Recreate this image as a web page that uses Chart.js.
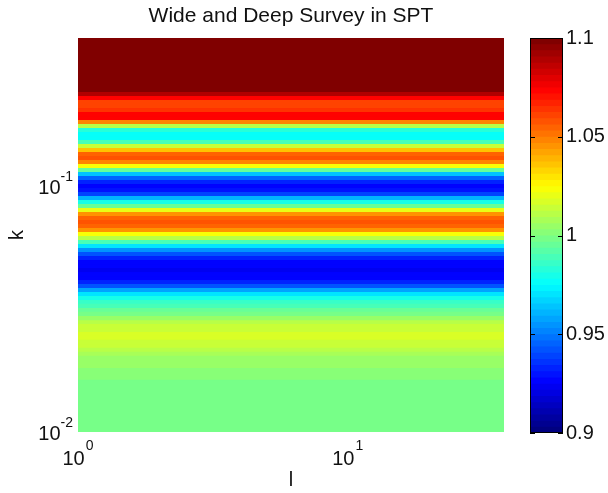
<!DOCTYPE html>
<html>
<head>
<meta charset="utf-8">
<script src="https://cdn.jsdelivr.net/npm/chart.js@4.4.0/dist/chart.umd.min.js"></script>
<style>
  html, body { margin: 0; padding: 0; background: #fff; }
  #wrap { position: relative; width: 608px; height: 493px; }
  #heat { position: absolute; left: 0; top: 0; }
  #cbar { position: absolute; left: 520px; top: 0; }
</style>
</head>
<body>
<div id="wrap">
  <canvas id="heat" width="608" height="493"></canvas>
  <canvas id="cbar" width="88" height="493"></canvas>
</div>
<script>
// axis ranges
var lRange = [1, 38];
var kRange = [0.01, 0.4];
var xTicks = [1, 10];
var yTicks = [0.01, 0.1];
var cRange = [0.9, 1.1];
var cTicks = [0.9, 0.95, 1, 1.05, 1.1];

// row edges in k (top to bottom)
var kEdges = [0.4, 0.2410, 0.2322, 0.2237, 0.2154, 0.2075, 0.1999, 0.1926, 0.1855, 0.1787,
  0.1721, 0.1658, 0.1597, 0.1538, 0.1482, 0.1427, 0.1375, 0.1324, 0.1276, 0.1229,
  0.1184, 0.1140, 0.1098, 0.1058, 0.1019, 0.0982, 0.0946, 0.0911, 0.0877, 0.0845,
  0.0814, 0.0784, 0.0755, 0.0728, 0.0701, 0.0675, 0.0650, 0.0626, 0.0603, 0.0581,
  0.0560, 0.0539, 0.0520, 0.0500, 0.0482, 0.0464, 0.0447, 0.0431, 0.0415, 0.0400,
  0.0385, 0.0371, 0.0357, 0.0344, 0.0332, 0.0319, 0.0308, 0.0296, 0.0285, 0.0275,
  0.0265, 0.0255, 0.0246, 0.0237, 0.0228, 0.0220, 0.0212, 0.0204, 0.0196, 0.0189,
  0.0182, 0.0175, 0.0169, 0.0163, 0.01];

// ratio in each row (same for every l)
var ratio = [1.12,
  1.09, 1.075, 1.062, 1.06, 1.065, 1.075, 1.075, 1.05, 1.01, 0.982,
  0.976, 0.978, 0.99, 1.015, 1.035, 1.055, 1.058, 1.05, 1.025, 0.995,
  0.965, 0.945, 0.932, 0.928, 0.93, 0.94, 0.96, 0.98, 0.995, 1.02,
  1.045, 1.055, 1.058, 1.055, 1.045, 1.025, 1.01, 0.99, 0.97, 0.955,
  0.942, 0.933, 0.928, 0.925, 0.923, 0.925, 0.927, 0.932, 0.942, 0.958,
  0.97, 0.98, 0.985, 0.99, 0.995, 1.0, 1.005, 1.01, 1.013, 1.015,
  1.016, 1.016, 1.015, 1.013, 1.01, 1.008, 1.006, 1.005, 1.004, 1.003,
  1.002, 1.001,
  1.0];

var fam = '"Liberation Sans", Arial, Helvetica, sans-serif';
var ink = '#111';

function clamp(v) { return Math.max(0, Math.min(1, v)); }
// matlab jet, 64 levels
function jet(v) {
  var idx = Math.floor((v - cRange[0]) / (cRange[1] - cRange[0]) * 64);
  idx = Math.max(0, Math.min(63, idx));
  var t = idx / 63;
  var r = clamp(1.5 - Math.abs(4 * t - 3));
  var g = clamp(1.5 - Math.abs(4 * t - 2));
  var b = clamp(1.5 - Math.abs(4 * t - 1));
  return 'rgb(' + Math.round(r * 255) + ',' + Math.round(g * 255) + ',' + Math.round(b * 255) + ')';
}

// one line dataset per edge, filled down to the next edge
function bandSets(edges, values, x0, x1) {
  return edges.map(function(e, i) {
    var last = i >= values.length;
    var c = last ? 'rgba(0,0,0,0)' : jet(values[i]);
    return {
      data: [{x: x0, y: e}, {x: x1, y: e}],
      fill: last ? false : '+1',
      backgroundColor: c,
      borderColor: c,
      borderWidth: last ? 0 : 1.5,
      pointRadius: 0,
      tension: 0
    };
  });
}

var powerLabels = {
  id: 'powerLabels',
  afterDraw: function(chart) {
    var ctx = chart.ctx, xs = chart.scales.x, ys = chart.scales.y;
    ctx.save();
    ctx.fillStyle = ink;
    ctx.textBaseline = 'alphabetic';
    ctx.textAlign = 'left';
    yTicks.forEach(function(v) {
      var py = ys.getPixelForValue(v);
      var exp = String(Math.round(Math.log10(v)));
      ctx.font = '14px ' + fam;
      var ew = ctx.measureText(exp).width;
      ctx.font = '20px ' + fam;
      var bw = ctx.measureText('10').width;
      var right = ys.right - 5;
      ctx.fillText('10', right - ew - bw, py + 7.5);
      ctx.font = '14px ' + fam;
      ctx.fillText(exp, right - ew, py - 5);
    });
    xTicks.forEach(function(v) {
      var px = xs.getPixelForValue(v);
      var exp = String(Math.round(Math.log10(v)));
      ctx.font = '14px ' + fam;
      var ew = ctx.measureText(exp).width;
      ctx.font = '20px ' + fam;
      var bw = ctx.measureText('10').width;
      var start = px - (bw + ew + 1) / 2;
      ctx.fillText('10', start, xs.top + 33);
      ctx.font = '14px ' + fam;
      ctx.fillText(exp, start + bw + 1, xs.top + 18);
    });
    ctx.restore();
  }
};

new Chart(document.getElementById('heat'), {
  type: 'line',
  data: { datasets: bandSets(kEdges, ratio, lRange[0], lRange[1]) },
  options: {
    responsive: false,
    animation: false,
    devicePixelRatio: 1,
    layout: { padding: { left: 0, right: 104, top: 0, bottom: 0 } },
    plugins: {
      legend: { display: false },
      tooltip: { enabled: false },
      title: {
        display: true,
        text: 'Wide and Deep Survey in SPT',
        fullSize: false,
        color: ink,
        font: { family: fam, size: 21, weight: 'normal' },
        padding: { top: 4, bottom: 8.8 }
      }
    },
    scales: {
      x: {
        type: 'logarithmic', min: lRange[0], max: lRange[1],
        grid: { display: false }, border: { display: false },
        ticks: { display: false },
        title: { display: true, text: 'l', color: ink, font: { family: fam, size: 20 }, padding: { top: 0, bottom: 1 } },
        afterFit: function(s) { s.height = 61; }
      },
      y: {
        type: 'logarithmic', min: kRange[0], max: kRange[1],
        grid: { display: false }, border: { display: false },
        ticks: { display: false },
        title: { display: true, text: 'k', color: ink, font: { family: fam, size: 20 }, padding: { top: 5, bottom: 0 } },
        afterFit: function(s) { s.width = 78; }
      }
    }
  },
  plugins: [powerLabels]
});

// colour bar levels
var cbEdges = [], cbLevels = [];
for (var i = 0; i <= 64; i++) cbEdges.push(cRange[1] - i * (cRange[1] - cRange[0]) / 64);
for (var j = 0; j < 64; j++) cbLevels.push(cRange[1] - (j + 0.5) * (cRange[1] - cRange[0]) / 64);

var cbFrame = {
  id: 'cbFrame',
  afterDatasetsDraw: function(chart) {
    var ctx = chart.ctx, a = chart.chartArea, ys = chart.scales.y;
    ctx.save();
    ctx.strokeStyle = '#000';
    ctx.lineWidth = 1;
    ctx.strokeRect(Math.round(a.left) + 0.5, Math.round(a.top) + 0.5,
      Math.round(a.right - a.left) - 1, Math.round(a.bottom - a.top) - 1);
    cTicks.forEach(function(v) {
      var py = Math.round(ys.getPixelForValue(v)) + 0.5;
      ctx.beginPath();
      ctx.moveTo(a.left, py); ctx.lineTo(a.left + 5, py);
      ctx.moveTo(a.right - 5, py); ctx.lineTo(a.right, py);
      ctx.stroke();
    });
    ctx.restore();
  }
};

new Chart(document.getElementById('cbar'), {
  type: 'line',
  data: { datasets: bandSets(cbEdges, cbLevels, 0, 1) },
  options: {
    responsive: false,
    animation: false,
    devicePixelRatio: 1,
    layout: { padding: { left: 10, right: 0, top: 38, bottom: 60 } },
    plugins: { legend: { display: false }, tooltip: { enabled: false } },
    scales: {
      x: { type: 'linear', min: 0, max: 1, display: false },
      y: {
        type: 'linear', position: 'right', min: cRange[0], max: cRange[1],
        grid: { display: false, drawTicks: false }, border: { display: false },
        afterBuildTicks: function(s) { s.ticks = cTicks.map(function(v) { return { value: v }; }); },
        ticks: {
          padding: 3, color: ink, font: { family: fam, size: 20 },
          callback: function(v) { return String(+Number(v).toFixed(2)); }
        },
        afterFit: function(s) { s.width = 45; }
      }
    }
  },
  plugins: [cbFrame]
});
</script>
</body>
</html>
